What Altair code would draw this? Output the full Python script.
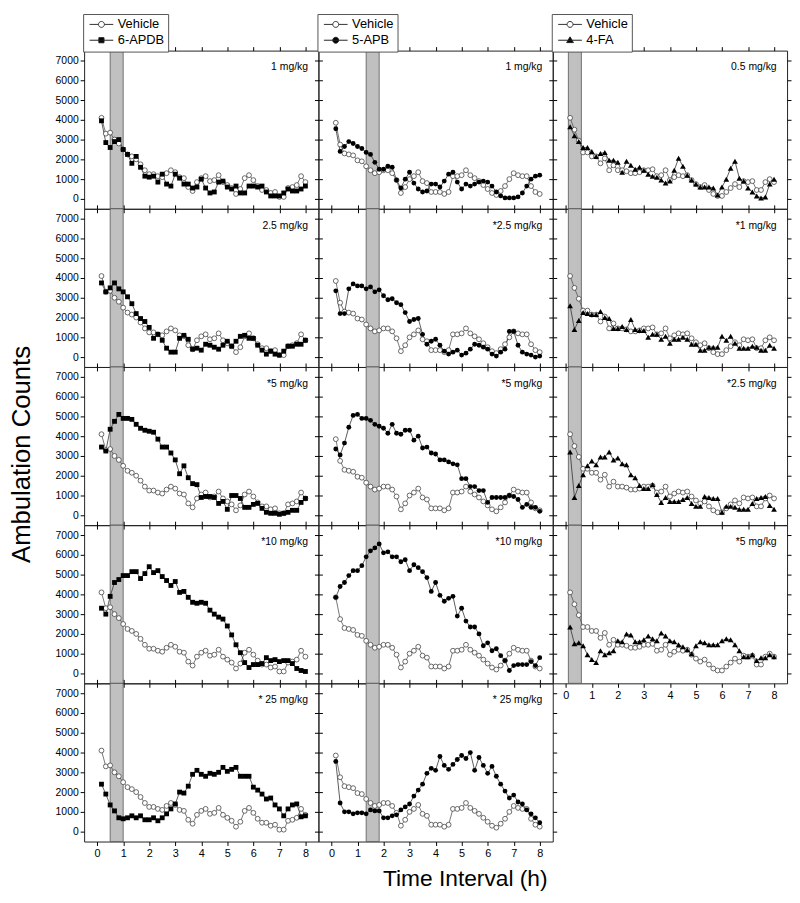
import altair as alt
import pandas as pd

# ---------------- data ----------------
MINUTES = list(range(10, 481, 10))          # 10-min bins, 0.17 h .. 8 h
X_TICKS = [0, 1, 2, 3, 4, 5, 6, 7, 8]
Y_TICKS = [0, 1000, 2000, 3000, 4000, 5000, 6000, 7000]
X_DOMAIN = [-0.5, 8.5]
Y_DOMAIN = [-500, 7500]

DRUGS = ["6-APDB", "5-APB", "4-FA"]
DRUG_SHAPES = ["square", "circle", "triangle-up"]
BANDS = [(0.5, 1.0), (1.333, 1.833), (0.1, 0.6)]

DOSES = [
    ["1 mg/kg", "2.5 mg/kg", "*5 mg/kg", "*10 mg/kg", "* 25 mg/kg"],
    ["1 mg/kg", "*2.5 mg/kg", "*5 mg/kg", "*10 mg/kg", "* 25 mg/kg"],
    ["0.5 mg/kg", "*1 mg/kg", "*2.5 mg/kg", "*5 mg/kg"],
]

VEH_COL1 = [4100, 3300, 3350, 3000, 2800, 2500, 2250, 2150, 2000, 1750,
            1450, 1250, 1250, 1150, 1100, 1300, 1450, 1350, 1100, 1050,
            600, 400, 850, 1050, 1150, 900, 950, 1200, 850, 700,
            550, 250, 500, 1050, 1200, 950, 650, 450, 450, 300,
            350, 100, 100, 550, 600, 700, 1150, 850]
APDB_1 = [3950, 2850, 2600, 2900, 3000, 2500, 2250, 1800, 2150, 1600,
          1150, 1100, 1150, 850, 1250, 750, 650, 1250, 1050, 750,
          750, 550, 600, 1000, 550, 300, 350, 850, 900, 600,
          500, 650, 300, 300, 650, 650, 600, 650, 350, 150,
          150, 150, 300, 500, 400, 400, 500, 650]
APDB_2_5 = [3750, 3300, 3500, 3750, 3450, 3300, 3050, 2700, 2200, 1950,
            1800, 1500, 950, 1150, 850, 450, 250, 250, 950, 1100,
            900, 400, 450, 350, 650, 600, 500, 400, 600, 800,
            550, 800, 1050, 1100, 950, 950, 600, 350, 150, 300,
            150, 100, 300, 550, 550, 650, 650, 850]
APDB_5 = [3450, 3250, 4350, 4750, 5100, 4900, 4900, 4850, 4600, 4400,
          4300, 4250, 4200, 3850, 3450, 3450, 3150, 2800, 2100, 2500,
          1900, 1600, 1550, 900, 950, 950, 900, 600, 700, 300,
          1000, 1000, 850, 400, 400, 550, 600, 350, 150, 100,
          100, 50, 100, 150, 250, 250, 650, 850]
APDB_10 = [3300, 3000, 3900, 4600, 4750, 4950, 4950, 5150, 5150, 4800,
           5050, 5400, 5100, 5200, 4900, 4700, 4450, 4650, 4100, 4150,
           3850, 3600, 3550, 3600, 3550, 3200, 3000, 2850, 2750, 2400,
           1950, 1450, 1050, 550, 300, 450, 450, 500, 800, 650,
           700, 600, 650, 650, 500, 250, 150, 100]
APDB_25 = [2400, 1900, 1350, 1050, 700, 650, 700, 800, 700, 800,
           600, 600, 700, 550, 700, 900, 1150, 1400, 2000, 1950,
           2300, 2900, 3100, 2900, 2800, 2950, 2900, 3000, 3250, 3050,
           3150, 3250, 2800, 2800, 2800, 2250, 2100, 1900, 1650, 1700,
           1350, 1150, 800, 1150, 1350, 1400, 750, 800]

VEH_COL2 = [3850, 2750, 2300, 2250, 2200, 1950, 1900, 1650, 1450, 1300,
            1350, 1450, 1450, 1300, 950, 300, 600, 1000, 1150, 1350,
            900, 800, 350, 350, 350, 250, 350, 1150, 1150, 1200,
            1450, 1200, 1050, 900, 700, 500, 300, 200, 400, 650,
            1000, 1300, 1200, 1150, 1150, 650, 350, 250]
APB_1 = [3550, 2400, 2650, 2900, 2800, 2650, 2550, 2350, 2250, 1850,
         1500, 1500, 1650, 1600, 950, 550, 1000, 1350, 800, 500,
         350, 400, 750, 750, 600, 900, 1250, 1350, 850, 500,
         750, 650, 750, 850, 900, 850, 650, 350, 150, 50,
         50, 50, 100, 300, 650, 1000, 1150, 1200]
APB_2_5 = [3350, 2200, 2200, 3450, 3700, 3600, 3600, 3450, 3550, 3300,
           3400, 3100, 2900, 2950, 2750, 2650, 2250, 1800, 1900, 1950,
           1150, 650, 800, 900, 600, 300, 150, 250, 350, 100,
           200, 400, 650, 600, 500, 400, 150, 50, 250, 400,
           1300, 1300, 600, 250, 150, 100, 0, 50]
APB_5 = [3350, 3050, 3650, 4450, 5050, 5100, 4900, 4900, 4800, 4600,
         4500, 4400, 4150, 4600, 4150, 4100, 4300, 4300, 3800, 4000,
         3400, 3450, 3150, 3100, 2800, 2800, 2700, 2600, 2550, 1850,
         1850, 1450, 1450, 1250, 1250, 650, 900, 900, 900, 900,
         1000, 950, 800, 400, 550, 400, 400, 200]
APB_10 = [3850, 4400, 4600, 4950, 5200, 5200, 5450, 5900, 6200, 6350,
          6550, 6100, 6150, 5900, 5900, 5650, 5750, 5200, 5500, 5350,
          5150, 4850, 4150, 4600, 3950, 3650, 3800, 3900, 2900, 3300,
          2650, 2350, 2350, 2000, 1400, 1550, 1150, 1250, 900, 650,
          150, 400, 450, 450, 450, 600, 400, 800]
APB_25 = [3550, 1450, 1000, 1000, 900, 950, 950, 900, 1100, 1050,
          1050, 700, 700, 800, 850, 1100, 1250, 1400, 1800, 2100,
          2400, 2950, 3200, 3100, 3800, 3350, 3150, 3400, 3650, 3850,
          3700, 4000, 3100, 3750, 3350, 2950, 3300, 2800, 2400, 2050,
          1700, 1850, 1500, 1400, 1100, 900, 700, 450]

VEH_COL3 = [4100, 3500, 2950, 2350, 2350, 2150, 2150, 1800, 2050, 1450,
            1700, 1450, 1450, 1400, 1300, 1300, 1350, 1450, 1450, 1500,
            1150, 1200, 1450, 950, 1100, 1200, 1150, 1200, 950, 750,
            600, 700, 450, 250, 150, 150, 350, 550, 750, 600,
            900, 850, 900, 450, 450, 850, 1000, 850]
FA_0_5 = [3650, 3200, 2900, 2600, 2600, 2400, 2150, 2300, 2350, 1950,
          1950, 1850, 1350, 1900, 1700, 1500, 1600, 1450, 1250, 1150,
          1100, 950, 800, 900, 1450, 2050, 1650, 1200, 950, 750,
          600, 600, 600, 550, 200, 600, 1000, 1550, 1900, 1050,
          900, 550, 350, 150, 50, 100, 750, 1000]
FA_1 = [2600, 1400, 1850, 2250, 2200, 2150, 2150, 2300, 2000, 1950,
        1450, 1450, 1550, 1400, 1900, 1400, 1350, 1350, 1000, 1150,
        1150, 900, 1050, 700, 900, 900, 1000, 900, 650, 650,
        350, 350, 500, 500, 500, 1050, 850, 1050, 700, 450,
        450, 450, 550, 500, 350, 350, 600, 450]
FA_2_5 = [3200, 900, 1500, 2050, 2500, 2750, 2550, 2950, 2950, 3200,
          2800, 2900, 2600, 2550, 2050, 1900, 1500, 1350, 1350, 1550,
          1050, 650, 900, 700, 700, 700, 800, 900, 600, 450,
          450, 950, 900, 850, 850, 150, 450, 450, 400, 300,
          300, 300, 600, 850, 900, 950, 500, 300]
FA_5 = [2350, 1500, 1550, 1400, 950, 700, 550, 1150, 950, 1050,
        1150, 1650, 1600, 2000, 1950, 1600, 1600, 1700, 1900, 1750,
        1650, 2050, 1900, 1650, 1600, 1450, 1350, 1200, 1000, 1400,
        1600, 1550, 1450, 1450, 1450, 1650, 1750, 1700, 1450, 1150,
        850, 850, 950, 650, 800, 800, 950, 850]

VEHICLES = [VEH_COL1, VEH_COL2, VEH_COL3]
SERIES = [
    [APDB_1, APDB_2_5, APDB_5, APDB_10, APDB_25],
    [APB_1, APB_2_5, APB_5, APB_10, APB_25],
    [FA_0_5, FA_1, FA_2_5, FA_5],
]
for col in SERIES + [VEHICLES]:
    for s in col:
        assert len(s) == 48, len(s)

# legend glyphs: line with marker (symbol scale r = sqrt(64)/2 = 4px per unit)
LEG_VEHICLE = "M-1,0H1.25M2.75,0H5M2.75,0A0.75,0.75,0,1,1,1.25,0A0.75,0.75,0,1,1,2.75,0"
LEG_DRUG = [
    "M-1,0H5M1.35,-0.65H2.65V0.65H1.35Z",
    "M-1,0H5M2.75,0A0.75,0.75,0,1,1,1.25,0A0.75,0.75,0,1,1,2.75,0",
    "M-1,0H5M2,-0.85L2.85,0.6H1.15Z",
]

PW, PH = 237, 160
FONT = "Liberation Sans"


def make_panel(c, r):
    hours = [m / 60 for m in MINUTES]
    df = pd.DataFrame({"h": hours, "veh": VEHICLES[c], "drug": SERIES[c][r]})
    xs = alt.Scale(domain=X_DOMAIN, nice=False, zero=False)
    ys = alt.Scale(domain=Y_DOMAIN, nice=False, zero=False)
    last = r == len(DOSES[c]) - 1

    bkw = dict(orient="bottom", values=X_TICKS, labels=last, tickSize=4,
               labelPadding=2, labelFontSize=11, format="d")
    if c == 1 and r == 4:
        bkw.update(title="Time Interval (h)", titleFontSize=23, titlePadding=9,
                   titleX=148, titleFontWeight="normal")
    else:
        bkw.update(title=None)
    lkw = dict(orient="left", values=Y_TICKS, labels=(c == 0), tickSize=4,
               labelPadding=2, labelFontSize=10.5, format="d")
    if c == 0 and r == 2:
        lkw.update(title="Ambulation Counts", titleFontSize=26, titlePadding=21,
                   titleY=88, titleFontWeight="normal")
    else:
        lkw.update(title=None)

    b0, b1 = BANDS[c]
    band = alt.Chart(pd.DataFrame({"x0": [b0], "x1": [b1], "y0": [Y_DOMAIN[0]], "y1": [Y_DOMAIN[1]]})).mark_rect(
        fill="#c0c0c0", stroke="#555555", strokeWidth=0.8
    ).encode(
        x=alt.X("x0:Q", scale=xs, axis=None), x2="x1",
        y=alt.Y("y0:Q", scale=ys, axis=None), y2="y1",
    )
    veh_line = alt.Chart(df).mark_line(color="#555555", strokeWidth=0.8).encode(
        x=alt.X("h:Q", scale=xs, axis=alt.Axis(**bkw)),
        y=alt.Y("veh:Q", scale=ys, axis=alt.Axis(**lkw)),
    )
    drug_line = alt.Chart(df).mark_line(color="#333333", strokeWidth=0.8).encode(
        x=alt.X("h:Q", scale=xs, axis=alt.Axis(orient="top", values=X_TICKS, labels=False,
                                                 tickSize=4, title=None)),
        y=alt.Y("drug:Q", scale=ys, axis=alt.Axis(orient="right", values=Y_TICKS, labels=False,
                                                    tickSize=4, title=None)),
    )
    veh_pts = alt.Chart(df).mark_point(shape="circle", filled=True, fill="white", stroke="#444444",
                                       strokeWidth=0.8, size=24, opacity=1).encode(
        x=alt.X("h:Q", scale=xs, axis=None), y=alt.Y("veh:Q", scale=ys, axis=None))
    dsize = 34 if DRUG_SHAPES[c] == "triangle-up" else 24
    drug_pts = alt.Chart(df).mark_point(shape=DRUG_SHAPES[c], filled=True, fill="black",
                                        strokeWidth=0, size=dsize, opacity=1).encode(
        x=alt.X("h:Q", scale=xs, axis=None), y=alt.Y("drug:Q", scale=ys, axis=None))
    txt = alt.Chart(pd.DataFrame({"tx": [8.1], "ty": [6650], "lab": [DOSES[c][r]]})).mark_text(
        align="right", baseline="middle", fontSize=10.5, font=FONT, color="black"
    ).encode(
        x=alt.X("tx:Q", scale=xs, axis=None), y=alt.Y("ty:Q", scale=ys, axis=None), text="lab:N")

    layers = [band, veh_line, drug_line, veh_pts, drug_pts, txt]

    if r == 0:
        names = ["Vehicle", DRUGS[c]]
        leg = alt.Legend(title=None, orient="none", legendX=-1, legendY=-37, direction="vertical",
                         symbolSize=64, symbolStrokeWidth=1, symbolStrokeColor="#333333",
                         symbolOpacity=1, labelFontSize=13, labelFont=FONT, labelColor="black",
                         labelOffset=18, padding=4, rowPadding=2, strokeColor="#555555",
                         fillColor="white", labelLimit=200)
        leg_df = pd.DataFrame({"series": pd.Series([], dtype=str),
                               "h": pd.Series([], dtype=float),
                               "v": pd.Series([], dtype=float)})
        leg_layer = alt.Chart(leg_df).mark_point(filled=True, size=64, strokeWidth=1).encode(
            x=alt.X("h:Q", scale=xs, axis=None),
            y=alt.Y("v:Q", scale=ys, axis=None),
            shape=alt.Shape("series:N", scale=alt.Scale(domain=names, range=[LEG_VEHICLE, LEG_DRUG[c]]),
                            legend=leg),
            fill=alt.Fill("series:N", scale=alt.Scale(domain=names, range=["white", "black"]),
                          legend=leg),
            stroke=alt.Stroke("series:N", scale=alt.Scale(domain=names, range=["#333333", "#222222"]),
                              legend=leg),
        )
        layers.append(leg_layer)

    return alt.layer(*layers).resolve_axis(x="independent", y="independent").properties(
        width=PW, height=PH)


panels = []
for r in range(5):
    for c in range(3):
        if r < len(DOSES[c]):
            panels.append(make_panel(c, r))

chart = alt.concat(*panels, columns=3, spacing=0, bounds="flush").resolve_scale(
    shape="independent", fill="independent", stroke="independent"
).resolve_legend(
    shape="independent", fill="independent", stroke="independent"
).properties(
    padding={"left": 0, "top": 0, "right": 0, "bottom": 0},
    background="white",
).configure_view(
    stroke="#222222", strokeWidth=1
).configure_axis(
    labelFont=FONT, titleFont=FONT, labelColor="black", titleColor="black",
    tickColor="black", tickWidth=1, domain=False, grid=False,
)

chart.save("out.html", embed_options={"renderer": "svg", "actions": False})
